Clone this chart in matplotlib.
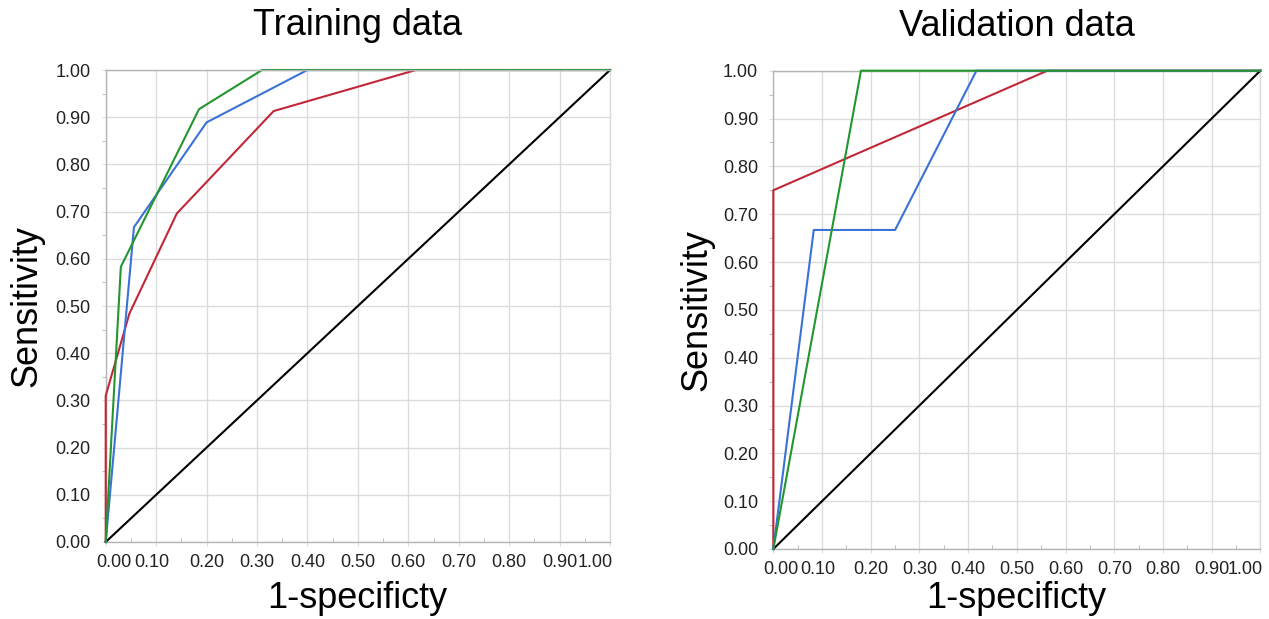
import numpy as np
import matplotlib
matplotlib.use("Agg")
import matplotlib.pyplot as plt
from matplotlib.transforms import ScaledTranslation
from matplotlib.ticker import MultipleLocator, FormatStrFormatter

plt.rcParams["font.family"] = ["Liberation Sans", "DejaVu Sans"]

# ROC points: (1-specificity, sensitivity)
train_green_x = [0.0, 0.030, 0.185, 0.310, 1.0]
train_green_y = [0.0, 0.583, 0.917, 1.0, 1.0]
train_blue_x = [0.0, 0.056, 0.200, 0.400, 1.0]
train_blue_y = [0.0, 0.667, 0.889, 1.0, 1.0]
train_red_x = [0.0, 0.0, 0.047, 0.141, 0.333, 0.615, 1.0]
train_red_y = [0.0, 0.310, 0.484, 0.696, 0.913, 1.0, 1.0]

valid_green_x = [0.0, 0.180, 1.0]
valid_green_y = [0.0, 1.0, 1.0]
valid_blue_x = [0.0, 0.083, 0.250, 0.417, 1.0]
valid_blue_y = [0.0, 0.667, 0.667, 1.0, 1.0]
valid_red_x = [0.0, 0.0, 0.5625, 1.0]
valid_red_y = [0.0, 0.75, 1.0, 1.0]

ref_x = [0.0, 1.0]
ref_y = [0.0, 1.0]

tick_vals = np.round(np.arange(0, 1.01, 0.1), 2)
tick_labels = [f"{v:.2f}" for v in tick_vals]

GREEN = "#23962f"
BLUE = "#3a72d6"
RED = "#c02838"
GRID = "#dcdcdc"
SPINE = "#b4b4b4"


def style_axes(ax, fig):
    ax.set_xlim(0, 1)
    ax.set_ylim(0, 1)
    ax.set_xticks(tick_vals)
    ax.set_xticklabels(tick_labels)
    ax.set_yticks(tick_vals)
    ax.yaxis.set_major_formatter(FormatStrFormatter("%.2f"))
    ax.xaxis.set_minor_locator(MultipleLocator(0.05))
    ax.yaxis.set_minor_locator(MultipleLocator(0.05))
    ax.grid(True, which="major", color=GRID, linewidth=1.0)
    ax.set_axisbelow(True)
    ax.tick_params(axis="both", which="major", labelsize=13, length=3,
                   color=GRID, labelcolor="#222222")
    ax.tick_params(axis="y", which="major", pad=8)
    ax.tick_params(axis="x", which="major", pad=6)
    ax.tick_params(axis="x", which="minor", direction="in", length=3, color=SPINE)
    ax.tick_params(axis="y", which="minor", direction="out", length=3, color=SPINE)
    for side in ["left", "bottom", "top", "right"]:
        ax.spines[side].set_color(SPINE)
        ax.spines[side].set_linewidth(1.0)
    ax.spines["right"].set_color(GRID)

    # the end labels are pulled inside the plot area like in the original
    shifts = {0: 8.0, 1: -4.5, 10: -15.0}
    for i, lab in enumerate(ax.get_xticklabels()):
        if i in shifts:
            lab.set_transform(lab.get_transform() +
                              ScaledTranslation(shifts[i] / 100, 0, fig.dpi_scale_trans))


fig = plt.figure(figsize=(12.69, 6.19), dpi=100)
ax1 = fig.add_axes([0.0833, 0.1244, 0.3974, 0.7625])
ax2 = fig.add_axes([0.6094, 0.1131, 0.3838, 0.7727])

for ax, title, curves in [
    (ax1, "Training data", [(train_red_x, train_red_y, RED),
                            (train_blue_x, train_blue_y, BLUE),
                            (train_green_x, train_green_y, GREEN)]),
    (ax2, "Validation data", [(valid_red_x, valid_red_y, RED),
                              (valid_blue_x, valid_blue_y, BLUE),
                              (valid_green_x, valid_green_y, GREEN)]),
]:
    style_axes(ax, fig)
    ax.plot(ref_x, ref_y, color="black", linewidth=1.5, clip_on=False, zorder=3)
    for xs, ys, c in curves:
        ax.plot(xs, ys, color=c, linewidth=1.5, clip_on=False, zorder=3)
    ax.set_title(title, fontsize=26, pad=25)
    ax.set_xlabel("1-specificty", fontsize=26)
    ax.set_ylabel("Sensitivity", fontsize=26)

ax1.spines["top"].set_zorder(5)
ax1.xaxis.set_label_coords(0.5, -0.083)
ax1.yaxis.set_label_coords(-0.122, 0.5)
ax2.xaxis.set_label_coords(0.5, -0.067)
ax2.yaxis.set_label_coords(-0.122, 0.5)

fig.savefig("out.png", dpi=100)
